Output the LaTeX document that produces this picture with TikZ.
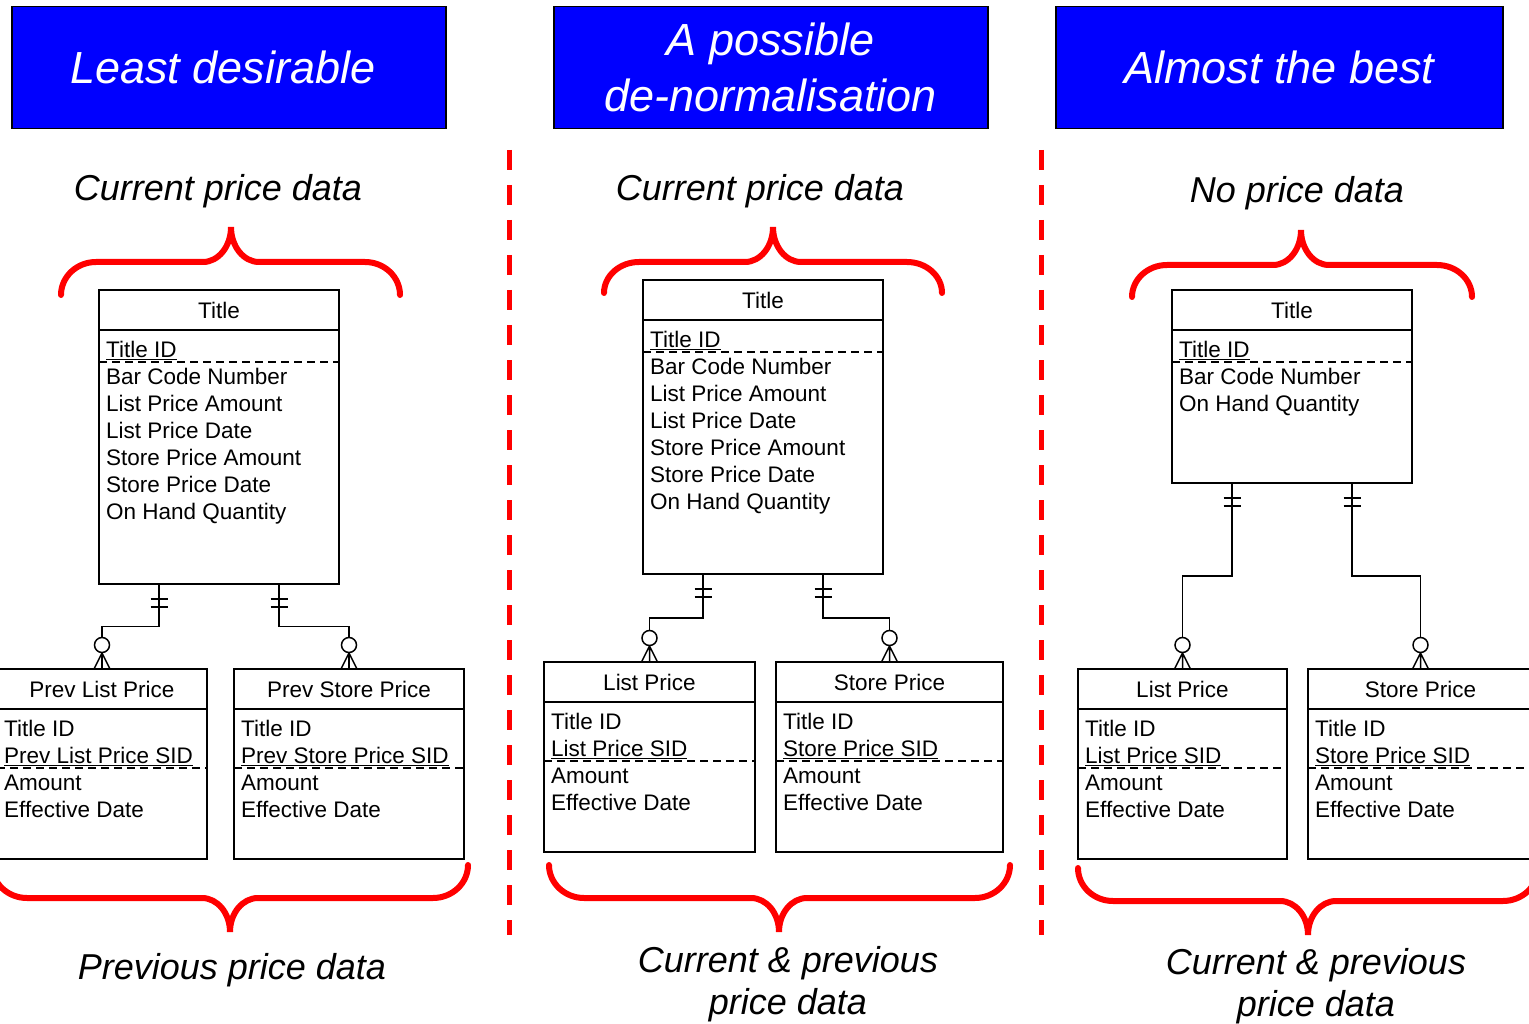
\documentclass[tikz,border=0pt]{standalone}
\usepackage{fontspec}
\setmainfont{Liberation Sans}
\usetikzlibrary{positioning,calc}

\begin{document}
\begin{tikzpicture}[
  x=1pt, y=-1pt,
  hd/.style={draw=black, line width=1.5pt, fill=blue, text=white, anchor=north west,
             font=\fontsize{45}{56}\selectfont\itshape, align=center,
             minimum height=122pt, inner sep=0pt},
  lab/.style={font=\fontsize{36}{42}\selectfont\itshape, align=center},
  ehead/.style={draw, line width=1.5pt, anchor=north west, minimum height=40pt,
                inner sep=0pt, outer sep=0pt, font=\fontsize{22.5}{27}\selectfont},
  ebody/.style={draw, line width=1.5pt, inner sep=0pt, outer sep=0pt},
  attr/.style={font=\fontsize{22.5}{27}\selectfont, align=left, inner sep=0pt,
               anchor=north west},
  keyline/.style={dash pattern=on 8pt off 5pt, line width=1.3pt},
  rel/.style={line width=1.5pt},
  brace/.style={red, line width=6pt, line cap=round},
  sep/.style={red, line width=5pt, dash pattern=on 20pt off 15pt},
  onemark/.pic={\draw[rel] (-8.5,15) -- (8.5,15) (-8.5,23) -- (8.5,23);},
  manymark/.pic={\draw[rel] (-8,0) -- (0,-16) -- (8,0) (0,-16) -- (0,0);
                 \draw[rel, fill=white] (0,-24) circle[radius=7.5pt];}
]
\useasboundingbox (0,0) rectangle (1529,1024);

% headings
\node[hd, minimum width=434pt] (hd1) at (11,6) {Least desirable\hspace*{12pt}};
\node[hd, minimum width=434pt] (hd2) at (553,6) {A possible\\de-normalisation};
\node[hd, minimum width=447pt] (hd3) at (1055,6) {Almost the best};

\node[lab] (lab1) at (218,191) {Current price data};
\node[lab] (lab2) at (760,191) {Current price data};
\node[lab] (lab3) at (1297,193) {No price data};
\node[lab] (lab4) at (232,970) {Previous price data};
\node[lab] (lab5) at (788,984) {Current \& previous\\price data};
\node[lab] (lab6) at (1316,986) {Current \& previous\\price data};

% separators
\draw[sep] (509,150) -- (509,935);
\draw[sep] (1041,150) -- (1041,935);

% braces: left / middle / right / end / line / tip
\foreach \xl/\xm/\xr/\ye/\yl/\yt in {61/231/400/295/262/227, 604/773/942/293/262/227,
    1132/1301/1472/297/265/230, -8/230/468/865/898/932, 549/779/1010/865/898/932,
    1078/1308/1538/868/901/935}
  \draw[brace] (\xl,\ye) .. controls (\xl,{\yl+0.448*(\ye-\yl)}) and ({\xl+0.448*35},\yl)
    .. (\xl+35,\yl) -- (\xm-28,\yl)
    .. controls ({\xm-28+0.552*28},\yl) and (\xm,{\yt+0.552*(\yl-\yt)}) .. (\xm,\yt)
    .. controls (\xm,{\yt+0.552*(\yl-\yt)}) and ({\xm+28-0.552*28},\yl) .. (\xm+28,\yl)
    -- (\xr-35,\yl)
    .. controls ({\xr-0.448*35},\yl) and (\xr,{\yl+0.448*(\ye-\yl)}) .. (\xr,\ye);

% least desirable
\node[ehead, minimum width=240pt] (t1h) at (99,290) {Title};
\node[ebody, minimum width=240pt, minimum height=254pt, below=0pt of t1h] (t1) {};
\node[attr] (t1a) at ($(t1.north west)+(7,11)$)
  {\underline{Title ID}\\Bar Code Number\\List Price Amount\\List Price Date\\
   Store Price Amount\\Store Price Date\\On Hand Quantity};
\draw[keyline] ([yshift=-32pt]t1.north west) -- ([yshift=-32pt]t1.north east);

\node[ehead, minimum width=210pt] (plh) at (-3,669) {Prev List Price};
\node[ebody, minimum width=210pt, minimum height=150pt, below=0pt of plh] (pl) {};
\node[attr] (pla) at ($(pl.north west)+(7,11)$)
  {Title ID\\\underline{Prev List Price SID}\\Amount\\Effective Date};
\draw[keyline] ([yshift=-59pt]pl.north west) -- ([yshift=-59pt]pl.north east);

\node[ehead, minimum width=230pt] (psh) at (234,669) {Prev Store Price};
\node[ebody, minimum width=230pt, minimum height=150pt, below=0pt of psh] (ps) {};
\node[attr] (psa) at ($(ps.north west)+(7,11)$)
  {Title ID\\\underline{Prev Store Price SID}\\Amount\\Effective Date};
\draw[keyline] ([yshift=-59pt]ps.north west) -- ([yshift=-59pt]ps.north east);

% possible de-normalisation
\node[ehead, minimum width=240pt] (t2h) at (643,280) {Title};
\node[ebody, minimum width=240pt, minimum height=254pt, below=0pt of t2h] (t2) {};
\node[attr] (t2a) at ($(t2.north west)+(7,11)$)
  {\underline{Title ID}\\Bar Code Number\\List Price Amount\\List Price Date\\
   Store Price Amount\\Store Price Date\\On Hand Quantity};
\draw[keyline] ([yshift=-32pt]t2.north west) -- ([yshift=-32pt]t2.north east);

\node[ehead, minimum width=211pt] (l2h) at (544,662) {List Price};
\node[ebody, minimum width=211pt, minimum height=150pt, below=0pt of l2h] (l2) {};
\node[attr] (l2a) at ($(l2.north west)+(7,11)$)
  {Title ID\\\underline{List Price SID}\\Amount\\Effective Date};
\draw[keyline] ([yshift=-59pt]l2.north west) -- ([yshift=-59pt]l2.north east);

\node[ehead, minimum width=227pt] (s2h) at (776,662) {Store Price};
\node[ebody, minimum width=227pt, minimum height=150pt, below=0pt of s2h] (s2) {};
\node[attr] (s2a) at ($(s2.north west)+(7,11)$)
  {Title ID\\\underline{Store Price SID}\\Amount\\Effective Date};
\draw[keyline] ([yshift=-59pt]s2.north west) -- ([yshift=-59pt]s2.north east);

% almost the best
\node[ehead, minimum width=240pt] (t3h) at (1172,290) {Title};
\node[ebody, minimum width=240pt, minimum height=153pt, below=0pt of t3h] (t3) {};
\node[attr] (t3a) at ($(t3.north west)+(7,11)$)
  {\underline{Title ID}\\Bar Code Number\\On Hand Quantity};
\draw[keyline] ([yshift=-32pt]t3.north west) -- ([yshift=-32pt]t3.north east);

\node[ehead, minimum width=209pt] (l3h) at (1078,669) {List Price};
\node[ebody, minimum width=209pt, minimum height=150pt, below=0pt of l3h] (l3) {};
\node[attr] (l3a) at ($(l3.north west)+(7,11)$)
  {Title ID\\\underline{List Price SID}\\Amount\\Effective Date};
\draw[keyline] ([yshift=-59pt]l3.north west) -- ([yshift=-59pt]l3.north east);

\node[ehead, minimum width=225pt] (s3h) at (1308,669) {Store Price};
\node[ebody, minimum width=225pt, minimum height=150pt, below=0pt of s3h] (s3) {};
\node[attr] (s3a) at ($(s3.north west)+(7,11)$)
  {Title ID\\\underline{Store Price SID}\\Amount\\Effective Date};
\draw[keyline] ([yshift=-59pt]s3.north west) -- ([yshift=-59pt]s3.north east);

% relationships
\foreach \t in {t1,t2,t3} {
  \coordinate (\t l) at ($(\t.south west)!0.25!(\t.south east)$);
  \coordinate (\t r) at ($(\t.south west)!0.75!(\t.south east)$);
}
\foreach \p/\c in {t1l/plh, t1r/psh, t2l/l2h, t2r/s2h, t3l/l3h, t3r/s3h} {
  \draw[rel] (\p) |- ($(\p)!0.5!(\c.north)$) -| (\c.north);
  \pic at (\p) {onemark};
  \pic at (\c.north) {manymark};
}
\end{tikzpicture}
\end{document}
